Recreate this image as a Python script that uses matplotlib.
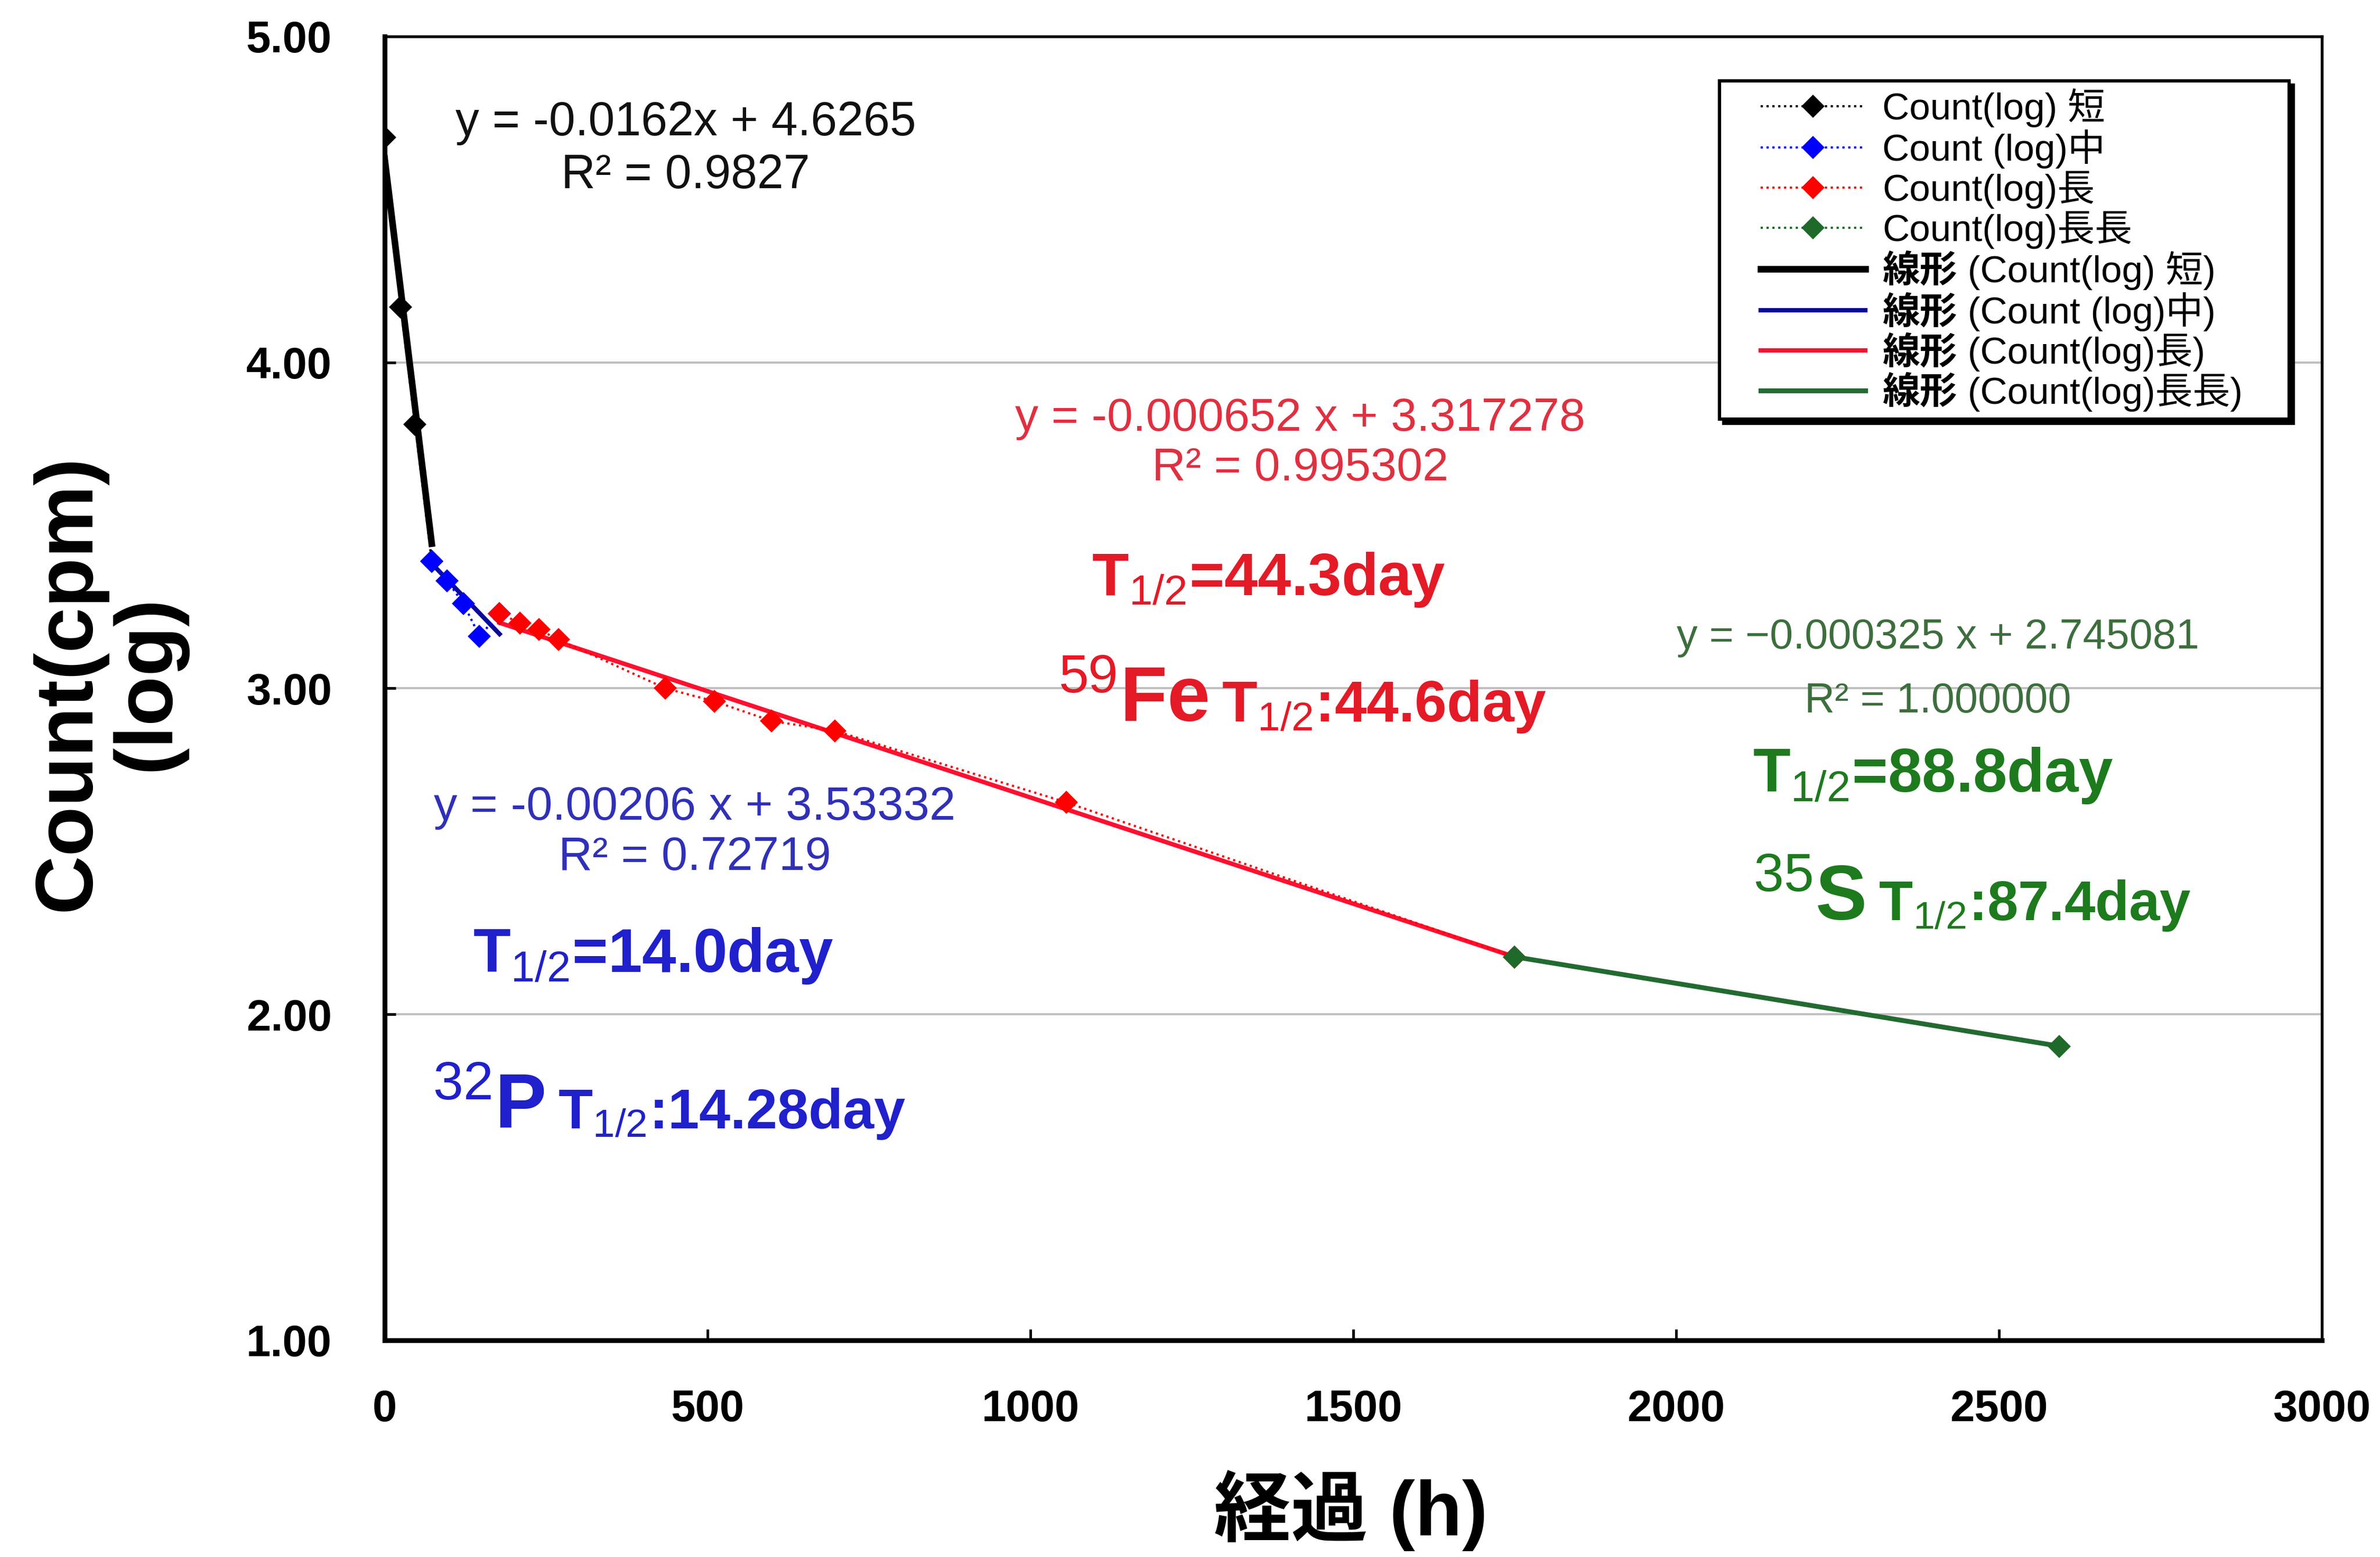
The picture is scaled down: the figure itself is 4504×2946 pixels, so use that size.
import matplotlib
matplotlib.use("Agg")
import matplotlib.pyplot as plt
from matplotlib.offsetbox import TextArea, HPacker, AnnotationBbox
from matplotlib.legend_handler import HandlerLine2D
from matplotlib.ticker import FormatStrFormatter, MultipleLocator
import numpy as np

plt.rcParams['font.family'] = ['Liberation Sans', 'Noto Sans CJK JP']
plt.rcParams['mathtext.fontset'] = 'custom'
plt.rcParams['mathtext.rm'] = 'Liberation Sans'
plt.rcParams['mathtext.bf'] = 'Liberation Sans:bold'
plt.rcParams['mathtext.it'] = 'Liberation Sans:italic'

# measured counts (log10 cpm) against elapsed hours, four decay windows
hours_short = [0, 25, 47, 73]
log_short = [4.69, 4.17, 3.81, 3.39]
hours_mid = [73, 97, 122, 147, 178]
log_mid = [3.39, 3.33, 3.26, 3.16, 3.23]
hours_long = [178, 210, 239, 269, 435, 511, 599, 697, 1056, 1750]
log_long = [3.23, 3.20, 3.18, 3.15, 3.00, 2.96, 2.90, 2.87, 2.65, 2.176]
hours_longer = [1750, 2593]
log_longer = [2.176, 1.902]

# linear fits per window
fit_slope = [-0.0162, -0.00206, -0.000652, -0.000325]
fit_icpt = [4.6265, 3.53332, 3.317278, 2.745081]
fit_eq = ["y = -0.0162x + 4.6265", "y = -0.00206 x + 3.53332",
          "y = -0.000652 x + 3.317278", "y = \u22120.000325 x + 2.745081"]
fit_r2 = ["R\u00b2 = 0.9827", "R\u00b2 = 0.72719", "R\u00b2 = 0.995302", "R\u00b2 = 1.000000"]

data_labels = ["Count(log) 短", "Count (log)中", "Count(log)長", "Count(log)長長"]
fit_names = ["(Count(log) 短)", "(Count (log)中)", "(Count(log)長)", "(Count(log)長長)"]

marker_cols = ["#000000", "#0000ff", "#ff0000", "#1f6a2a"]
fit_cols = ["#000000", "#0a0a9a", "#ff1030", "#236b33"]
fit_lw = [3.0, 2.0, 2.0, 2.2]

fig = plt.figure(figsize=(4504 / 300, 2946 / 300), dpi=300)
ax = fig.add_axes([0.1616, 0.1392, 0.814, 0.8374])

series = [(hours_short, log_short), (hours_mid, log_mid),
          (hours_long, log_long), (hours_longer, log_longer)]

data_handles = []
for (hx, hy), col, lab in zip(series, marker_cols, data_labels):
    h, = ax.plot(hx, hy, linestyle=':', linewidth=1.0, color=col, marker='D',
                 markersize=6.5, markeredgecolor=col, label=lab, zorder=4)
    data_handles.append(h)

fit_handles = []
for (hx, hy), m, b, col, lw, nm in zip(series, fit_slope, fit_icpt, fit_cols, fit_lw, fit_names):
    xs = np.array([min(hx), max(hx)])
    h, = ax.plot(xs, m * xs + b, color=col, linewidth=lw,
                 label="線形 " + nm, zorder=3)
    fit_handles.append(h)

ax.set_xlim(0, 3000)
ax.set_ylim(1, 5)
ax.xaxis.set_major_locator(MultipleLocator(500))
ax.yaxis.set_major_locator(MultipleLocator(1))
ax.yaxis.set_major_formatter(FormatStrFormatter('%.2f'))
ax.grid(axis='y', color='#c0c0c0', linewidth=1.0, zorder=0)
ax.set_axisbelow(True)

ax.tick_params(axis='both', direction='in', length=5, width=1.2, labelsize=20)
ax.tick_params(axis='y', pad=24)
ax.tick_params(axis='x', pad=22)
for lbl in ax.get_xticklabels() + ax.get_yticklabels():
    lbl.set_fontweight('bold')

for side in ['left', 'bottom']:
    ax.spines[side].set_linewidth(2.2)
for side in ['top', 'right']:
    ax.spines[side].set_linewidth(1.3)

fig.text(0.0456, 0.5614, "Count(cpm)\n(log)", rotation=90, ha='center', va='center',
         fontsize=37, fontweight='bold', linespacing=1.05)
fig.text(0.5675, 0.0299, "経過 (h)", ha='center', va='center', fontsize=35, fontweight='bold')

# regression equations
eq_cols = ["#111111", "#3030b8", "#e03040", "#3d6e3d"]
eq_size = [21.5, 21.3, 21.2, 19]
eq_pos = [(466, 4.734, 4.572), (480, 2.634, 2.480), (1418, 3.826, 3.674), (2405, 3.156, 2.960)]
for (xp, y1, y2), eq, r2, col, fs in zip(eq_pos, fit_eq, fit_r2, eq_cols, eq_size):
    ax.text(xp, y1, eq, ha='center', va='center', fontsize=fs, color=col)
    ax.text(xp, y2, r2, ha='center', va='center', fontsize=fs, color=col)

# half-lives from the fits
ax.text(1369, 3.333, r"T$_{\mathrm{1/2}}$=44.3day", ha='center', va='center',
        fontsize=27.3, fontweight='bold', color='#e41a26')
ax.text(137, 2.179, r"T$_{\mathrm{1/2}}$=14.0day", ha='left', va='center',
        fontsize=27.8, fontweight='bold', color='#2020cc')
ax.text(2119, 2.732, r"T$_{\mathrm{1/2}}$=88.8day", ha='left', va='center',
        fontsize=27.8, fontweight='bold', color='#1d7a1d')


def isotope_label(mass, symbol, half, xy, color, size):
    sym = TextArea(r"$^{\mathrm{" + mass + "}}$" + symbol,
                   textprops=dict(fontsize=35, fontweight='bold', color=color))
    rest = TextArea(r"T$_{\mathrm{1/2}}$:" + half,
                    textprops=dict(fontsize=size, fontweight='bold', color=color))
    box = HPacker(children=[sym, rest], align='baseline', pad=0, sep=6)
    ab = AnnotationBbox(box, xy, xycoords='data', box_alignment=(0, 0.5),
                        frameon=False, zorder=5)
    ax.add_artist(ab)


isotope_label("59", "Fe", "44.6day", (1043, 2.96), '#e41a26', 26.2)
isotope_label("32", "P", "14.28day", (74, 1.712), '#2020cc', 25.5)
isotope_label("35", "S", "87.4day", (2119, 2.351), '#1d7a1d', 25.2)

handler = HandlerLine2D(xpad=0.9)
leg = ax.legend(handles=data_handles + fit_handles, loc='upper right',
                bbox_to_anchor=(0.689, 0.70, 0.294, 0.266), mode='expand',
                borderaxespad=0, fontsize=17,
                handlelength=3.7, labelspacing=0.06, handletextpad=0.45,
                borderpad=0.2, fancybox=False, framealpha=1,
                edgecolor='black', shadow={'color': 'black', 'alpha': 1},
                handler_map={h: handler for h in data_handles + fit_handles})
leg.get_frame().set_linewidth(1.5)

# trendline entries: "線形" in bold, the rest regular
rows = leg._legend_handle_box.get_children()[0].get_children()
for row, txt, nm in zip(rows[4:], leg.get_texts()[4:], fit_names):
    tprops = dict(fontsize=17, va='baseline', ha='left')
    label_box = HPacker(children=[TextArea("線形", textprops=dict(tprops, fontweight='bold')),
                                  TextArea(" " + nm, textprops=tprops)],
                        align='baseline', pad=0, sep=0)
    label_box.set_figure(fig)
    row.get_children()[1] = label_box
    txt.set_visible(False)

fig.savefig("out.png", dpi=300, facecolor='white')
